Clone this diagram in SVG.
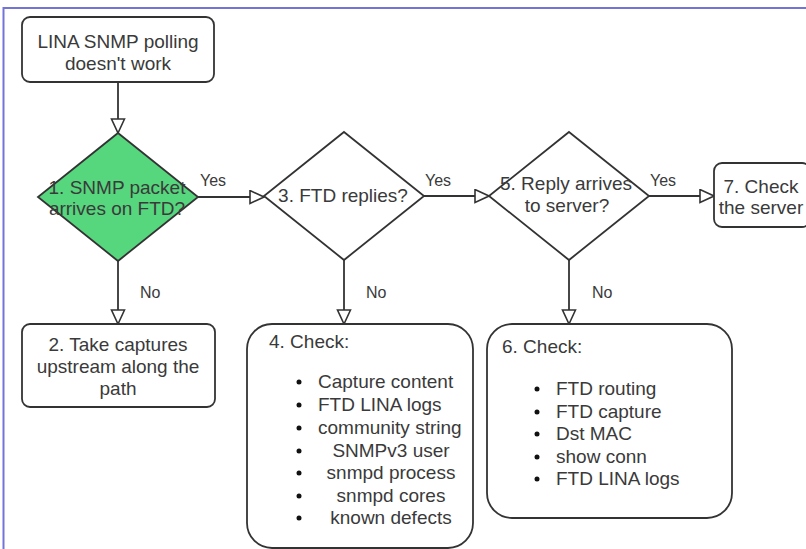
<svg xmlns="http://www.w3.org/2000/svg" width="806" height="549" viewBox="0 0 806 549">
<defs>
<marker id="arr" markerUnits="userSpaceOnUse" markerWidth="16" markerHeight="16" refX="15" refY="7.5" orient="auto">
<path d="M1,1 L15,7.5 L1,14 z" fill="#fff" stroke="#333" stroke-width="1.6"/>
</marker>
</defs>
<style>
.box{fill:#fff;stroke:#333;stroke-width:1.8}
.dia{fill:#fff;stroke:#333;stroke-width:1.8}
.t{font-family:"Liberation Sans",Arial,sans-serif;font-size:19px;fill:#3a3a3a}
.c{text-anchor:middle}
.lbl{font-family:"Liberation Sans",Arial,sans-serif;font-size:16px;fill:#3a3a3a}
.edge{stroke:#333;stroke-width:1.8;fill:none;marker-end:url(#arr)}
.b{fill:#111}
</style>
<rect width="806" height="549" fill="#fff"/>
<path d="M3.5,549 V8 H806" fill="none" stroke="#7474d8" stroke-width="2"/>

<g id="connectors">
<line class="edge" x1="118" y1="82" x2="118" y2="133"/>
<line class="edge" x1="198" y1="197" x2="264" y2="197"/>
<line class="edge" x1="424" y1="196" x2="489" y2="196"/>
<line class="edge" x1="649" y1="196" x2="714" y2="196"/>
<line class="edge" x1="118" y1="261" x2="118" y2="324"/>
<line class="edge" x1="344" y1="260" x2="344" y2="324"/>
<line class="edge" x1="569" y1="260" x2="569" y2="324"/>
<text class="lbl" x="200" y="186">Yes</text>
<text class="lbl" x="425" y="186">Yes</text>
<text class="lbl" x="650" y="186">Yes</text>
<text class="lbl" x="140" y="298">No</text>
<text class="lbl" x="366" y="298">No</text>
<text class="lbl" x="592" y="298">No</text>
</g>

<g id="start">
<rect class="box" x="22" y="17" width="192" height="65" rx="8"/>
<text class="t c" x="118" y="48">LINA SNMP polling</text>
<text class="t c" x="118" y="70">doesn't work</text>
</g>

<g id="d1">
<polygon points="118,133 198,197 118,261 38,197" fill="#56d67d" stroke="#333" stroke-width="1.8"/>
<text class="t c" x="117" y="194">1. SNMP packet</text>
<text class="t c" x="117" y="215">arrives on FTD?</text>
</g>

<g id="d3">
<polygon class="dia" points="344,132 424,196 344,260 264,196"/>
<text class="t c" x="343" y="202">3. FTD replies?</text>
</g>

<g id="d5">
<polygon class="dia" points="569,132 649,196 569,260 489,196"/>
<text class="t c" x="566" y="190">5. Reply arrives</text>
<text class="t c" x="567" y="212">to server?</text>
</g>

<g id="b7">
<rect class="box" x="714" y="163" width="96" height="64" rx="8"/>
<text class="t c" x="761" y="193">7. Check</text>
<text class="t c" x="761" y="214">the server</text>
</g>

<g id="b2">
<rect class="box" x="22" y="324" width="193" height="83" rx="8"/>
<text class="t c" x="118" y="351">2. Take captures</text>
<text class="t c" x="118" y="373">upstream along the</text>
<text class="t c" x="118" y="395">path</text>
</g>

<g id="b4">
<rect class="box" x="247" y="324" width="226" height="224" rx="25"/>
<text class="t" x="269" y="348">4. Check:</text>
<circle class="b" cx="299" cy="382" r="2.5"/>
<circle class="b" cx="299" cy="405" r="2.5"/>
<circle class="b" cx="299" cy="428" r="2.5"/>
<circle class="b" cx="299" cy="451" r="2.5"/>
<circle class="b" cx="299" cy="473" r="2.5"/>
<circle class="b" cx="299" cy="496" r="2.5"/>
<circle class="b" cx="299" cy="518" r="2.5"/>
<text class="t" x="318" y="388">Capture content</text>
<text class="t" x="318" y="411">FTD LINA logs</text>
<text class="t" x="318" y="434">community string</text>
<text class="t c" x="391" y="457">SNMPv3 user</text>
<text class="t c" x="391" y="479">snmpd process</text>
<text class="t c" x="391" y="502">snmpd cores</text>
<text class="t c" x="391" y="524">known defects</text>
</g>

<g id="b6">
<rect class="box" x="487" y="324" width="245" height="194" rx="25"/>
<text class="t" x="502" y="353">6. Check:</text>
<circle class="b" cx="537" cy="389" r="2.5"/>
<circle class="b" cx="537" cy="412" r="2.5"/>
<circle class="b" cx="537" cy="434" r="2.5"/>
<circle class="b" cx="537" cy="457" r="2.5"/>
<circle class="b" cx="537" cy="479" r="2.5"/>
<text class="t" x="556" y="395">FTD routing</text>
<text class="t" x="556" y="418">FTD capture</text>
<text class="t" x="556" y="440">Dst MAC</text>
<text class="t" x="556" y="463">show conn</text>
<text class="t" x="556" y="485">FTD LINA logs</text>
</g>
</svg>
